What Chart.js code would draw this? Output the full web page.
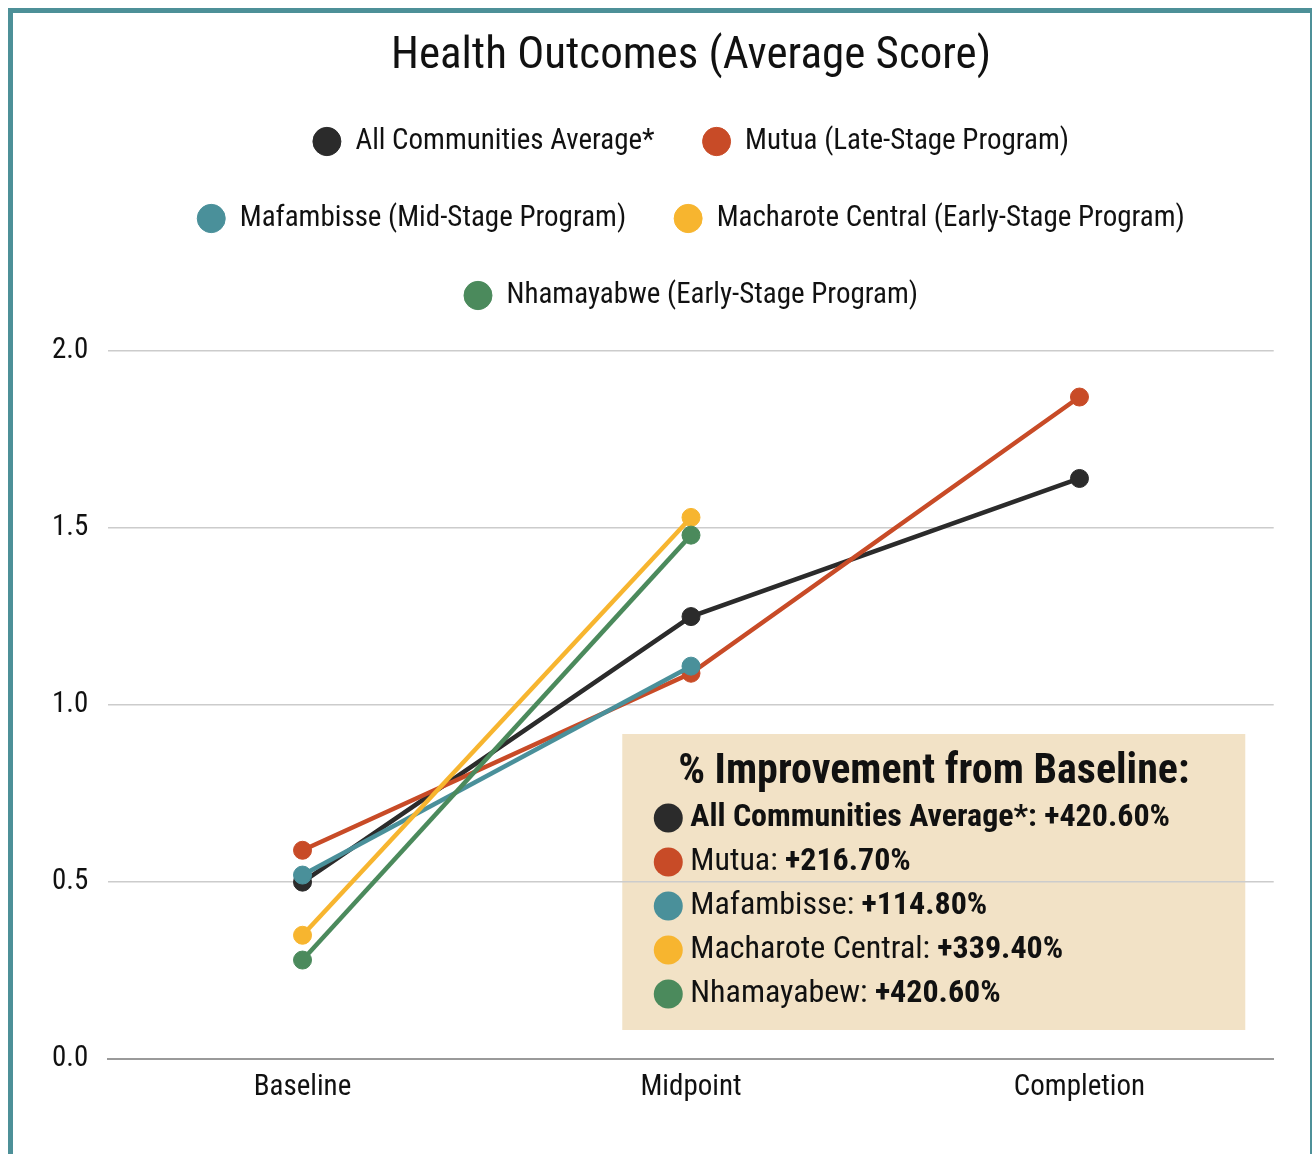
<!DOCTYPE html>
<html>
<head>
<meta charset="utf-8">
<script src="https://cdn.jsdelivr.net/npm/chart.js@4.4.0/dist/chart.umd.min.js"></script>
<style>
    html, body {
        margin: 0;
        padding: 0;
        background: #ffffff;
        overflow: hidden;
        width: 1312px;
        height: 1154px;
    }
    .frame {
        position: absolute;
        left: 8px;
        top: 8px;
        width: 1297px;
        height: 1200px;
        border: 5px solid #4d9098;
    }
    .chart-wrap {
        position: absolute;
        left: 13px;
        top: 13px;
        width: 1356px;
        height: 1141px;
    }
</style>
</head>
<body>
<div class="chart-wrap"><canvas id="line-chart"></canvas></div>
<div class="frame"></div>
<script>
const categories = ["Baseline", "Midpoint", "Completion"];

const seriesNames = [
    "All Communities Average*",
    "Mutua (Late-Stage Program)",
    "Mafambisse (Mid-Stage Program)",
    "Macharote Central (Early-Stage Program)",
    "Nhamayabwe (Early-Stage Program)"
];

const allCommunities = [0.50, 1.25, 1.64];
const mutua = [0.59, 1.09, 1.87];
const mafambisse = [0.52, 1.11, null];
const macharote = [0.35, 1.53, null];
const nhamayabwe = [0.28, 1.48, null];

const yTicks = [0, 0.5, 1.0, 1.5, 2.0];

const improvementNames = ["All Communities Average*", "Mutua", "Mafambisse", "Macharote Central", "Nhamayabew"];
const improvementValues = [420.60, 216.70, 114.80, 339.40, 420.60];

const colors = ["#2b2b2b", "#c84b27", "#4a909a", "#f7b52f", "#4b8a5c"];

const FONT = "'Roboto Condensed', 'Liberation Sans Narrow', 'DejaVu Sans Condensed', 'Arial Narrow', Roboto, sans-serif";

// beige box with the % improvement summary
const improvementBox = {
    id: 'improvementBox',
    getBox(chart) {
        const area = chart.chartArea;
        return {left: area.left + 514, top: area.top + 383, width: 623, height: 296};
    },
    beforeDraw(chart) {
        const ctx = chart.ctx;
        const box = this.getBox(chart);
        ctx.save();
        ctx.fillStyle = "#f2e2c6";
        ctx.fillRect(box.left, box.top, box.width, box.height);
        ctx.restore();
    },
    afterDraw(chart) {
        const ctx = chart.ctx;
        const box = this.getBox(chart);
        ctx.save();
        ctx.fillStyle = "#111111";
        ctx.textBaseline = "middle";
        ctx.textAlign = "center";
        ctx.font = "bold 42px " + FONT;
        ctx.fillText("% Improvement from Baseline:", box.left + box.width / 2, box.top + 38);

        ctx.textAlign = "left";
        improvementNames.forEach((name, i) => {
            const y = box.top + 84 + i * 44;
            ctx.fillStyle = colors[i];
            ctx.beginPath();
            ctx.arc(box.left + 46, y, 14.5, 0, Math.PI * 2);
            ctx.fill();

            ctx.fillStyle = "#111111";
            const value = "+" + improvementValues[i].toFixed(2) + "%";
            let x = box.left + 68;
            const label = name + ": ";
            ctx.font = (i === 0 ? "bold " : "") + "32px " + FONT;
            ctx.fillText(label, x, y);
            x += ctx.measureText(label).width;
            ctx.font = "bold 32px " + FONT;
            ctx.fillText(value, x, y);
        });
        ctx.restore();
    }
};

// extra room under the legend
const legendSpacing = {
    id: 'legendSpacing',
    beforeInit(chart) {
        const origFit = chart.legend.fit;
        chart.legend.fit = function () {
            origFit.bind(chart.legend)();
            this.height += 31;
        };
    }
};

const seriesData = [allCommunities, mutua, mafambisse, macharote, nhamayabwe];

const datasets = seriesData.map((values, i) => ({
    label: seriesNames[i],
    data: values,
    borderColor: colors[i],
    backgroundColor: colors[i],
    pointBackgroundColor: colors[i],
    pointBorderColor: colors[i],
    borderWidth: 4.5,
    pointRadius: 9,
    pointBorderWidth: 1,
    tension: 0,
    order: seriesData.length - 1 - i
}));

Chart.defaults.font.family = FONT;
Chart.defaults.color = "#111111";

const tickOptions = {
    padding: 20,
    color: "#111111",
    font: {size: 29},
    callback: (v) => v.toFixed(1)
};

new Chart(document.getElementById("line-chart"), {
    type: 'line',
    data: {
        labels: categories,
        datasets: datasets
    },
    options: {
        responsive: true,
        maintainAspectRatio: false,
        animation: false,
        layout: {
            padding: {left: 19, right: 19, top: 0, bottom: 38}
        },
        plugins: {
            title: {
                display: true,
                text: "Health Outcomes (Average Score)",
                color: "#111111",
                font: {size: 45, weight: 'normal', lineHeight: 1.0},
                padding: {top: 21, bottom: 0}
            },
            legend: {
                position: 'top',
                labels: {
                    usePointStyle: true,
                    pointStyle: 'circle',
                    pointStyleWidth: 28,
                    boxHeight: 20,
                    padding: 48,
                    color: "#111111",
                    font: {size: 29},
                    sort: (a, b) => a.datasetIndex - b.datasetIndex
                }
            },
            tooltip: {enabled: false}
        },
        scales: {
            x: {
                offset: true,
                grid: {display: false, drawTicks: false},
                border: {display: true, color: "#9a9a9a", width: 2},
                ticks: {padding: 11, color: "#111111", font: {size: 29}}
            },
            y: {
                min: 0,
                max: 2,
                afterBuildTicks(axis) {
                    axis.ticks = yTicks.map(v => ({value: v}));
                },
                grid: {color: "#cccccc", lineWidth: 1.5, drawTicks: false},
                border: {display: false},
                ticks: tickOptions
            },
            // empty right axis, keeps the plot balanced under the title
            yRight: {
                position: 'right',
                min: 0,
                max: 2,
                afterBuildTicks(axis) {
                    axis.ticks = yTicks.map(v => ({value: v}));
                },
                grid: {display: false, drawTicks: false},
                border: {display: false},
                ticks: Object.assign({}, tickOptions, {color: "rgba(0,0,0,0)"})
            }
        }
    },
    plugins: [improvementBox, legendSpacing]
});
</script>
</body>
</html>
